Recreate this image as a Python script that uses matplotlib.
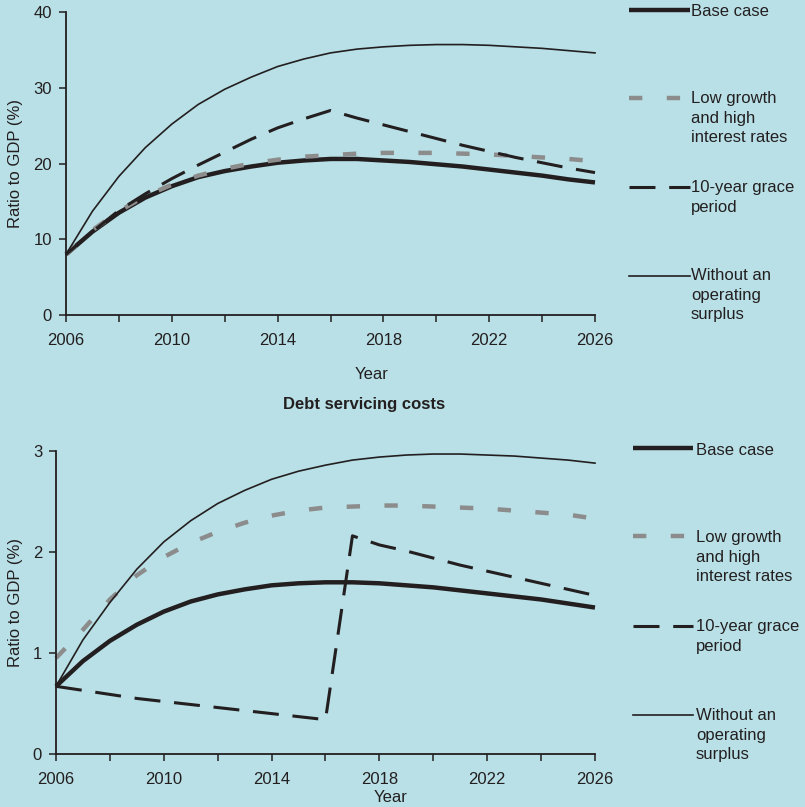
import matplotlib
matplotlib.use('Agg')
import matplotlib.pyplot as plt
from matplotlib.lines import Line2D
from matplotlib.ticker import FixedLocator

plt.rcParams['font.family'] = ['Liberation Sans', 'DejaVu Sans']

years = list(range(2006, 2027))
major_years = [2006, 2010, 2014, 2018, 2022, 2026]
minor_years = [2008, 2012, 2016, 2020, 2024]

# debt ratio (top panel)
debt_base = [8, 11, 13.5, 15.5, 17, 18.2, 19, 19.6, 20.1, 20.4, 20.6,
             20.6, 20.4, 20.2, 19.9, 19.6, 19.2, 18.8, 18.4, 17.9, 17.5]
debt_low = [8, 11.2, 13.7, 15.7, 17.2, 18.4, 19.3, 20, 20.5, 20.9, 21.1,
            21.3, 21.4, 21.4, 21.4, 21.3, 21.2, 21, 20.8, 20.6, 20.3]
debt_grace = [8, 11, 13.8, 16, 18, 19.8, 21.5, 23.2, 24.7, 25.9, 27,
              26, 25.1, 24.2, 23.3, 22.4, 21.6, 20.8, 20.1, 19.4, 18.8]
debt_nosurplus = [8, 13.7, 18.3, 22.1, 25.2, 27.8, 29.8, 31.4, 32.8, 33.8, 34.6,
                  35.1, 35.4, 35.6, 35.7, 35.7, 35.6, 35.4, 35.2, 34.9, 34.6]

# debt servicing costs (bottom panel)
serv_base = [0.67, 0.92, 1.12, 1.28, 1.41, 1.51, 1.58, 1.63, 1.67, 1.69, 1.70,
             1.70, 1.69, 1.67, 1.65, 1.62, 1.59, 1.56, 1.53, 1.49, 1.45]
serv_low = [0.95, 1.23, 1.53, 1.77, 1.95, 2.09, 2.2, 2.29, 2.36, 2.41, 2.44,
            2.45, 2.46, 2.46, 2.45, 2.44, 2.43, 2.41, 2.39, 2.37, 2.33]
serv_grace = [0.67, 0.63, 0.59, 0.55, 0.52, 0.49, 0.46, 0.43, 0.40, 0.37, 0.34,
              2.16, 2.07, 2.01, 1.94, 1.87, 1.81, 1.75, 1.69, 1.63, 1.57]
serv_nosurplus = [0.67, 1.13, 1.5, 1.83, 2.1, 2.31, 2.48, 2.61, 2.72, 2.8, 2.86,
                  2.91, 2.94, 2.96, 2.97, 2.97, 2.96, 2.95, 2.93, 2.91, 2.88]

labels = ['Base case', 'Low growth\nand high\ninterest rates',
          '10-year grace\nperiod', 'Without an\noperating\nsurplus']

bg = '#B8E0E6'
ink = '#231F20'
grey = '#8C8C8C'
W, H = 805, 807

styles = [
    dict(color=ink, lw=3.2, solid_capstyle='butt'),
    dict(color=grey, lw=3.2, dashes=(3, 5.5), dash_capstyle='butt'),
    dict(color=ink, lw=2.2, dashes=(8.5, 4.5), dash_capstyle='butt'),
    dict(color=ink, lw=1.2),
]

fig = plt.figure(figsize=(W / 100, H / 100), dpi=100, facecolor=bg)


def px(x, y):
    return x / W, 1 - y / H


def setup(ax, ymax, ystep, ylab_x, xlab_xy):
    ax.set_facecolor(bg)
    ax.set_xlim(2006, 2026)
    ax.set_ylim(0, ymax)
    ax.xaxis.set_major_locator(FixedLocator(major_years))
    ax.xaxis.set_minor_locator(FixedLocator(minor_years))
    ax.set_yticks([ystep * i for i in range(int(round(ymax / ystep)) + 1)])
    for s in ['top', 'right']:
        ax.spines[s].set_visible(False)
    for s in ['left', 'bottom']:
        ax.spines[s].set_linewidth(1.3)
        ax.spines[s].set_color(ink)
    ax.tick_params(which='both', direction='out', length=5, width=1.1,
                   color=ink, labelcolor=ink, labelsize=12)
    ax.tick_params(axis='x', which='both', pad=8)
    ax.tick_params(axis='y', pad=5)
    ax.set_ylabel('Ratio to GDP (%)', fontsize=12, color=ink, va='center')
    ax.yaxis.set_label_coords(ylab_x, 0.5)
    ax.set_xlabel('Year', fontsize=12, color=ink, va='center')
    ax.xaxis.set_label_coords(*xlab_xy)


def legend(x0, x1, tx, rows):
    for (ly, ty), st in zip(rows, styles):
        (a, b), (c, d) = px(x0, ly), px(x1, ly)
        fig.add_artist(Line2D([a, c], [b, d], **st))
    for (ly, ty), lab in zip(rows, labels):
        fx, fy = px(tx, ty)
        fig.text(fx, fy, lab, fontsize=12, color=ink, va='top', ha='left',
                 linespacing=1.38)


# top panel
ax1 = fig.add_axes([66 / W, 1 - 315 / H, 529 / W, 303 / H])
for ys, st in zip([debt_base, debt_low, debt_grace, debt_nosurplus], styles):
    ax1.plot(years, ys, clip_on=False, **st)
setup(ax1, 40, 10, -0.0955, (0.578, -0.198))
legend(629, 690, 691, [(9.5, 4), (98, 91), (187, 180), (276, 268)])

# bottom panel
ax2 = fig.add_axes([56 / W, 1 - 754 / H, 539 / W, 303 / H])
for ys, st in zip([serv_base, serv_low, serv_grace, serv_nosurplus], styles):
    ax2.plot(years, ys, clip_on=False, **st)
setup(ax2, 3, 1, -0.0751, (0.62, -0.145))
legend(633, 693, 696, [(448, 443), (536, 530), (626, 619), (715, 708)])

fx, fy = px(364, 405)
fig.text(fx, fy, 'Debt servicing costs', fontsize=12, fontweight='bold',
         color=ink, ha='center', va='center')

fig.savefig('out.png', dpi=100, facecolor=bg)
